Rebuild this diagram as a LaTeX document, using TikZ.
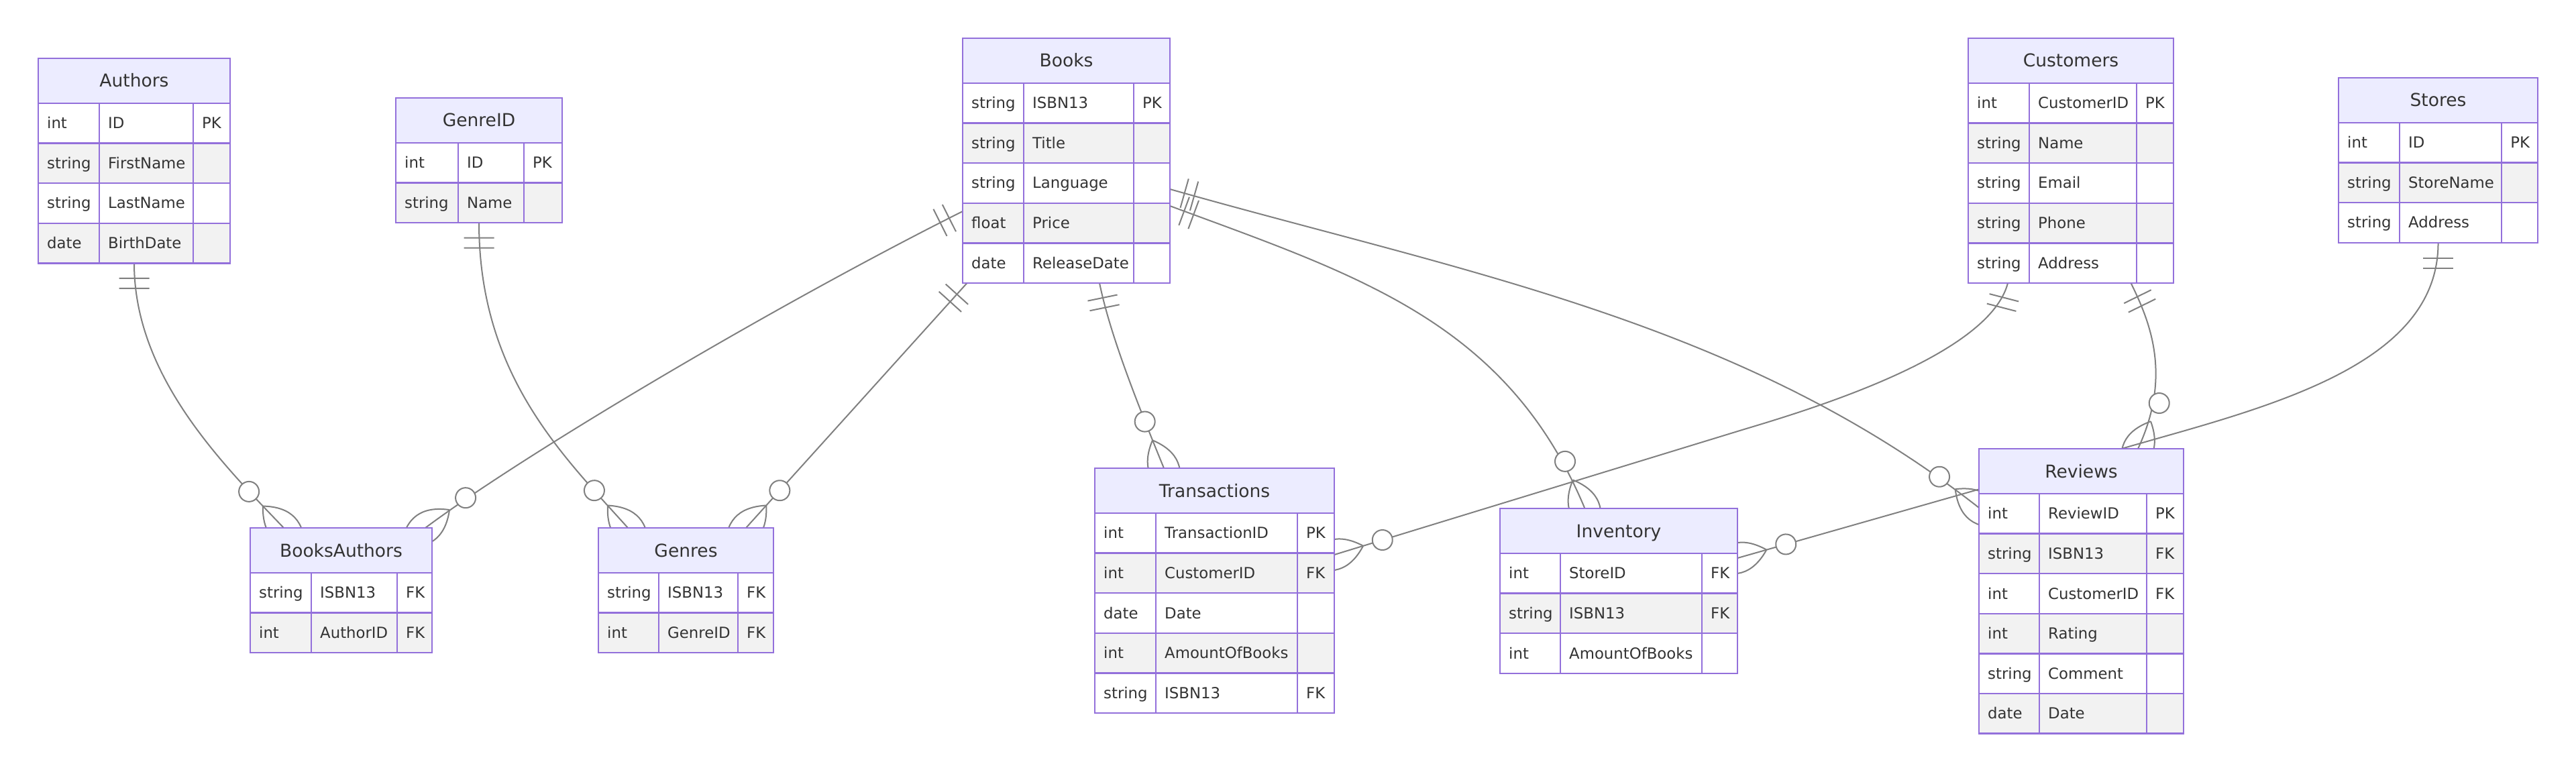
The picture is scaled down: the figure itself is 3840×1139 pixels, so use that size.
\documentclass[tikz,border=0pt]{standalone}
\usepackage{fontspec}
\setmainfont{DejaVu Sans}
\usetikzlibrary{decorations.markings}
\definecolor{hdrfill}{HTML}{ECECFF}
\definecolor{boxpurple}{HTML}{9370DB}
\definecolor{roweven}{HTML}{F2F2F2}
\definecolor{linegray}{HTML}{808080}
\definecolor{txt}{HTML}{333333}
\tikzset{
  boxline/.style={draw=boxpurple, line width=2.5pt},
  hdrtext/.style={anchor=base, inner sep=0pt, text=txt, font=\fontsize{26.5}{30}\selectfont},
  attr/.style={anchor=base west, inner sep=0pt, text=txt, font=\fontsize{22.8}{26}\selectfont},
  conn/.style={draw=linegray, line width=2pt, postaction={decorate},
    decoration={markings,
      mark=at position 0 with {\draw[linegray, line width=2pt] (22.5pt,-22.5pt) -- (22.5pt,22.5pt) (37.5pt,-22.5pt) -- (37.5pt,22.5pt);},
      mark=at position -0.5pt with {\draw[linegray, line width=2pt] (-44.5pt,0pt) .. controls (-14.5pt,-30pt) and (15.5pt,-30pt) .. (45.5pt,0pt) .. controls (15.5pt,30pt) and (-14.5pt,30pt) .. (-44.5pt,0pt);
        \draw[linegray, line width=2pt, fill=white] (-74.5pt,0pt) circle (15pt);}
    }},
}
\newcommand{\erbox}[9]{%
  \fill[hdrfill] (#2,#6) rectangle (#5,#6+67);
  \node[hdrtext] (#1) at ({(#2+#5)/2},#6+43) {#7};
  \foreach \ty/\nm/\ky [count=\i] in {#8} {%
    \pgfmathsetmacro{\yt}{#6+67+(\i-1)*59.6}%
    \pgfmathsetmacro{\yb}{\yt+59.6}%
    \pgfmathsetmacro{\ybl}{\yt+37.8}%
    \ifodd\i\relax \def\rowc{white}\else \def\rowc{roweven}\fi
    \fill[\rowc] (#2,\yt) rectangle (#5,\yb);
    \draw[boxline] (#3,\yt) -- (#3,\yb) (#4,\yt) -- (#4,\yb) (#2,\yt) -- (#5,\yt);
    \node[attr] (#1-t\i) at (#2+13,\ybl) {\ty};
    \node[attr] (#1-n\i) at (#3+13,\ybl) {\nm};
    \node[attr] (#1-k\i) at (#4+13,\ybl) {\ky};
  }
  \draw[boxline] (#2,#6) rectangle (#5,#6+67+#9*59.6);
}
\begin{document}
\begin{tikzpicture}[x=1pt, y=-1pt]
\fill[white] (0,0) rectangle (3840,1139);
\useasboundingbox (0,0) rectangle (3840,1139);
% connection points
\coordinate (authors-s) at (200,392.4);
\coordinate (genreid-s) at (714,332);
\coordinate (books-w1) at (1435,315);
\coordinate (books-sw) at (1441.5,422);
\coordinate (books-s) at (1639,422);
\coordinate (books-e2) at (1744,307);
\coordinate (books-e1) at (1744,282);
\coordinate (cust-s1) at (2993,422);
\coordinate (cust-s2) at (3176.5,422);
\coordinate (stores-s) at (3634.5,362);
\coordinate (ba-n1) at (423,787);
\coordinate (ba-n2) at (634,787);
\coordinate (genres-n1) at (936,787);
\coordinate (genres-n2) at (1112,787);
\coordinate (trans-n) at (1735,698);
\coordinate (trans-e) at (1989,827);
\coordinate (inv-n) at (2362,757);
\coordinate (inv-e) at (2590,832);
\coordinate (rev-w) at (2950,757);
\coordinate (rev-n) at (3187,669);
% connectors
\draw[conn] (authors-s) .. controls (200,560) and (330,690) .. (ba-n1);
\draw[conn] (genreid-s) .. controls (714,560) and (840,680) .. (genres-n1);
\draw[conn] (books-w1) .. controls (1150,458) and (780,678) .. (ba-n2);
\draw[conn] (books-sw) -- (genres-n2);
\draw[conn] (books-s) .. controls (1655,500) and (1695,600) .. (trans-n);
\draw[conn] (books-e2) .. controls (2025,411) and (2246,480) .. (inv-n);
\draw[conn] (books-e1) .. controls (2177,405) and (2596,479) .. (rev-w);
\draw[conn] (cust-s1) .. controls (2965,530) and (2700,610) .. (2600,640) -- (trans-e);
\draw[conn] (cust-s2) .. controls (3205,480) and (3238,560) .. (rev-n);
\draw[conn] (stores-s) .. controls (3634.5,522) and (3442,589) .. (3250,644) -- (inv-e);
% entities
\erbox{authors}{57}{148}{288}{343}{87}{Authors}{int/ID/PK, string/FirstName/{}, string/LastName/{}, date/BirthDate/{}}{4}
\erbox{genreid}{590}{683}{781}{838}{146}{GenreID}{int/ID/PK, string/Name/{}}{2}
\erbox{books}{1435}{1526}{1690}{1744}{57}{Books}{string/ISBN13/PK, string/Title/{}, string/Language/{}, float/Price/{}, date/ReleaseDate/{}}{5}
\erbox{customers}{2934}{3025}{3185}{3240}{57}{Customers}{int/CustomerID/PK, string/Name/{}, string/Email/{}, string/Phone/{}, string/Address/{}}{5}
\erbox{stores}{3486}{3577}{3729}{3783}{116}{Stores}{int/ID/PK, string/StoreName/{}, string/Address/{}}{3}
\erbox{booksauthors}{373}{464}{592}{644}{787}{BooksAuthors}{string/ISBN13/FK, int/AuthorID/FK}{2}
\erbox{genres}{892}{982}{1100}{1153}{787}{Genres}{string/ISBN13/FK, int/GenreID/FK}{2}
\erbox{transactions}{1632}{1723}{1934}{1989}{698}{Transactions}{int/TransactionID/PK, int/CustomerID/FK, date/Date/{}, int/AmountOfBooks/{}, string/ISBN13/FK}{5}
\erbox{inventory}{2236}{2326}{2537}{2590}{758}{Inventory}{int/StoreID/FK, string/ISBN13/FK, int/AmountOfBooks/{}}{3}
\erbox{reviews}{2950}{3040}{3200}{3255}{669}{Reviews}{int/ReviewID/PK, string/ISBN13/FK, int/CustomerID/FK, int/Rating/{}, string/Comment/{}, date/Date/{}}{6}
\end{tikzpicture}
\end{document}
